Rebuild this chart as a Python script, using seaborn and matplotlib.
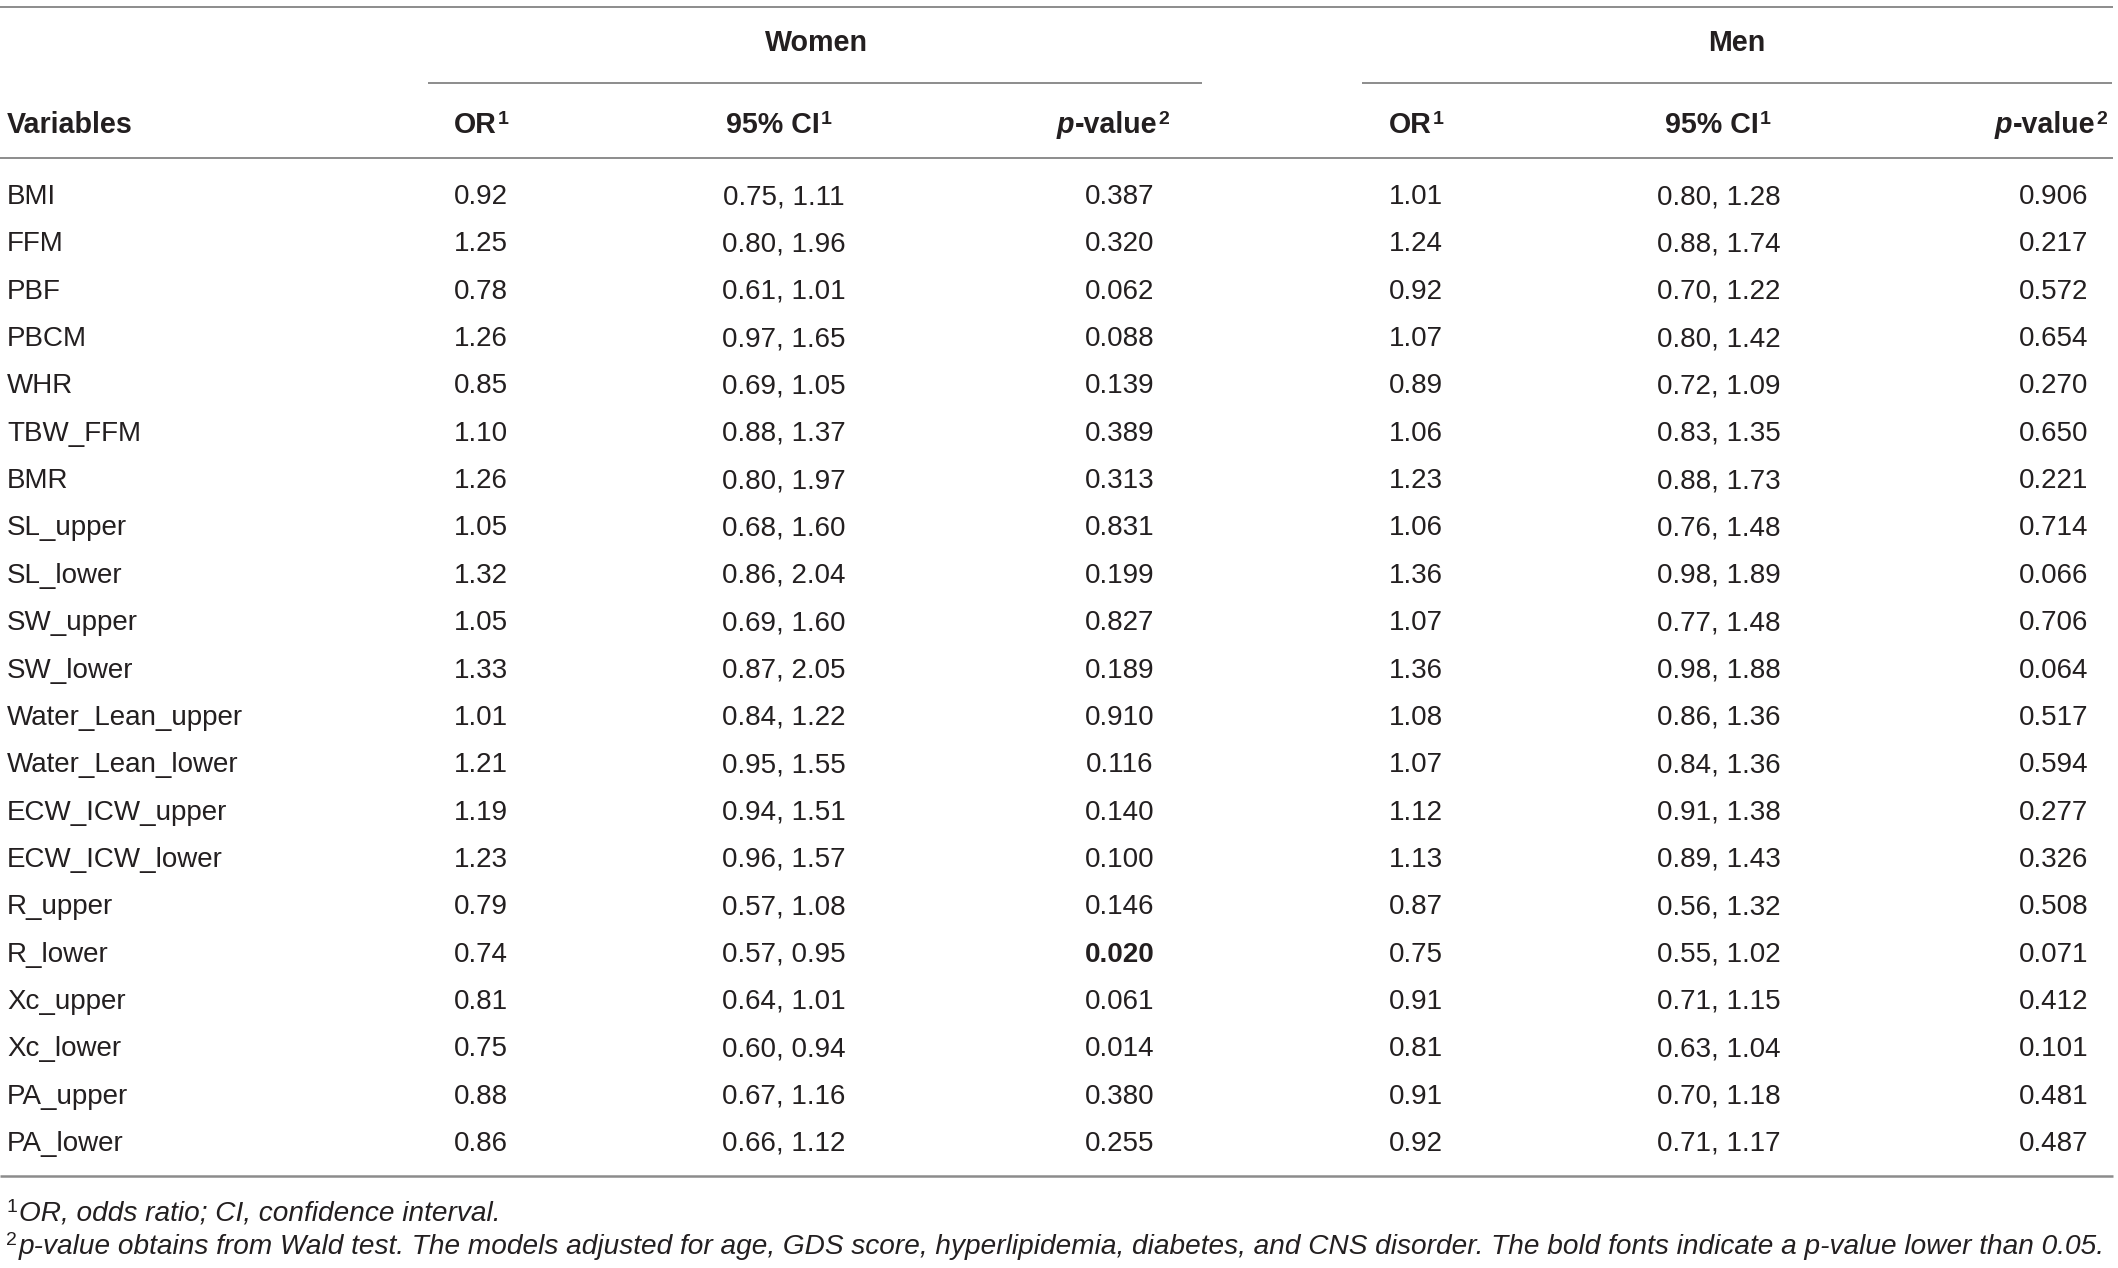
import matplotlib
matplotlib.use("Agg")
import matplotlib.pyplot as plt
import seaborn as sns
import numpy as np

# ---------------- data ----------------
variables = ["BMI", "FFM", "PBF", "PBCM", "WHR", "TBW_FFM", "BMR", "SL_upper", "SL_lower",
             "SW_upper", "SW_lower", "Water_Lean_upper", "Water_Lean_lower", "ECW_ICW_upper",
             "ECW_ICW_lower", "R_upper", "R_lower", "Xc_upper", "Xc_lower", "PA_upper", "PA_lower"]

women_or = [0.92, 1.25, 0.78, 1.26, 0.85, 1.10, 1.26, 1.05, 1.32, 1.05, 1.33, 1.01, 1.21, 1.19,
            1.23, 0.79, 0.74, 0.81, 0.75, 0.88, 0.86]
women_ci_low = [0.75, 0.80, 0.61, 0.97, 0.69, 0.88, 0.80, 0.68, 0.86, 0.69, 0.87, 0.84, 0.95, 0.94,
                0.96, 0.57, 0.57, 0.64, 0.60, 0.67, 0.66]
women_ci_high = [1.11, 1.96, 1.01, 1.65, 1.05, 1.37, 1.97, 1.60, 2.04, 1.60, 2.05, 1.22, 1.55, 1.51,
                 1.57, 1.08, 0.95, 1.01, 0.94, 1.16, 1.12]
women_p = [0.387, 0.320, 0.062, 0.088, 0.139, 0.389, 0.313, 0.831, 0.199, 0.827, 0.189, 0.910,
           0.116, 0.140, 0.100, 0.146, 0.020, 0.061, 0.014, 0.380, 0.255]
women_p_bold = ["R_lower"]

men_or = [1.01, 1.24, 0.92, 1.07, 0.89, 1.06, 1.23, 1.06, 1.36, 1.07, 1.36, 1.08, 1.07, 1.12,
          1.13, 0.87, 0.75, 0.91, 0.81, 0.91, 0.92]
men_ci_low = [0.80, 0.88, 0.70, 0.80, 0.72, 0.83, 0.88, 0.76, 0.98, 0.77, 0.98, 0.86, 0.84, 0.91,
              0.89, 0.56, 0.55, 0.71, 0.63, 0.70, 0.71]
men_ci_high = [1.28, 1.74, 1.22, 1.42, 1.09, 1.35, 1.73, 1.48, 1.89, 1.48, 1.88, 1.36, 1.36, 1.38,
               1.43, 1.32, 1.02, 1.15, 1.04, 1.18, 1.17]
men_p = [0.906, 0.217, 0.572, 0.654, 0.270, 0.650, 0.221, 0.714, 0.066, 0.706, 0.064, 0.517,
         0.594, 0.277, 0.326, 0.508, 0.071, 0.412, 0.101, 0.481, 0.487]

group_titles = ["Women", "Men"]
footnote1 = "OR, odds ratio; CI, confidence interval."
footnote2 = ("p-value obtains from Wald test. The models adjusted for age, GDS score, "
             "hyperlipidemia, diabetes, and CNS disorder. The bold fonts indicate a p-value lower than 0.05.")

# ---------------- style ----------------
sns.set_theme(style="white")
plt.rcParams["font.family"] = ["Liberation Sans", "DejaVu Sans"]

W, H = 2118, 1268
fig = plt.figure(figsize=(W / 100, H / 100), dpi=100)
ax = fig.add_axes([0, 0, 1, 1])
ax.set_xlim(0, W)
ax.set_ylim(H, 0)
ax.axis("off")
renderer = fig.canvas.get_renderer()

TXT = "#231f20"
LINE = "#8c8c8c"
FS = 20
HFS = 20.6
FNS = 20.2
SUP = 14


def segments(x, y, segs, ha="left"):
    arts = []
    widths = []
    for s, kw in segs:
        kw = dict(kw)
        dy = kw.pop("dy", 0)
        gap = kw.pop("gap", 0)
        t = ax.text(0, y + dy, s, va="baseline", ha="left", color=TXT, **kw)
        widths.append(t.get_window_extent(renderer).width + gap)
        arts.append(t)
    total = sum(widths)
    x0 = {"left": x, "center": x - total / 2, "right": x - total}[ha]
    for t, w in zip(arts, widths):
        t.set_x(x0)
        x0 += w
    return x0


def hline(y, x0, x1, lw=1.4):
    ax.plot([x0, x1], [y, y], color=LINE, lw=lw, solid_capstyle="butt")


# rules
hline(7, 0, 2113)
hline(82.5, 428, 1202)
hline(82.5, 1362, 2112)
hline(158, 0, 2113)
hline(1175.5, 0, 2113, lw=1.8)

# group titles
bold = dict(fontsize=HFS, fontweight="bold")
ax.text(816, 51, group_titles[0], ha="center", va="baseline", color=TXT, **bold)
ax.text(1737, 51, group_titles[1], ha="center", va="baseline", color=TXT, **bold)

# column headers
hy = 133
sup_b = dict(fontsize=SUP, fontweight="bold", dy=-9)
ax.text(7, hy, "Variables", ha="left", va="baseline", color=TXT, **bold)
for or_x, ci_x, p_x in [(454, 779, 1113), (1389, 1718, 2051)]:
    segments(or_x, hy, [("OR", dict(bold, gap=1)), ("1", sup_b)], ha="left")
    segments(ci_x, hy, [("95% CI", dict(bold, gap=1)), ("1", sup_b)], ha="center")
    segments(p_x, hy, [("p", dict(fontsize=HFS, fontweight="bold", fontstyle="italic")),
                       ("-value", dict(bold, gap=1)), ("2", sup_b)], ha="center")

# body rows
y0, dy = 204, 47.35
normal = dict(fontsize=FS)
for i, var in enumerate(variables):
    y = y0 + i * dy
    ax.text(7, y, var, ha="left", va="baseline", color=TXT, **normal)
    ax.text(454, y, f"{women_or[i]:.2f}", ha="left", va="baseline", color=TXT, **normal)
    ax.text(784, y, f"{women_ci_low[i]:.2f}, {women_ci_high[i]:.2f}", ha="center", va="baseline",
            color=TXT, **normal)
    wkw = dict(normal)
    if var in women_p_bold:
        wkw["fontweight"] = "bold"
    ax.text(1120, y, f"{women_p[i]:.3f}", ha="center", va="baseline", color=TXT, **wkw)
    ax.text(1389, y, f"{men_or[i]:.2f}", ha="left", va="baseline", color=TXT, **normal)
    ax.text(1719, y, f"{men_ci_low[i]:.2f}, {men_ci_high[i]:.2f}", ha="center", va="baseline",
            color=TXT, **normal)
    ax.text(2054, y, f"{men_p[i]:.3f}", ha="center", va="baseline", color=TXT, **normal)

# footnotes
ital = dict(fontsize=FNS, fontstyle="italic")
sup_n = dict(fontsize=SUP, dy=-9, gap=2)
segments(6, 1221, [("1", sup_n), (footnote1, ital)], ha="left")
segments(6, 1254, [("2", sup_n), (footnote2, ital)], ha="left")

fig.savefig("out.png", dpi=100, facecolor="white")
